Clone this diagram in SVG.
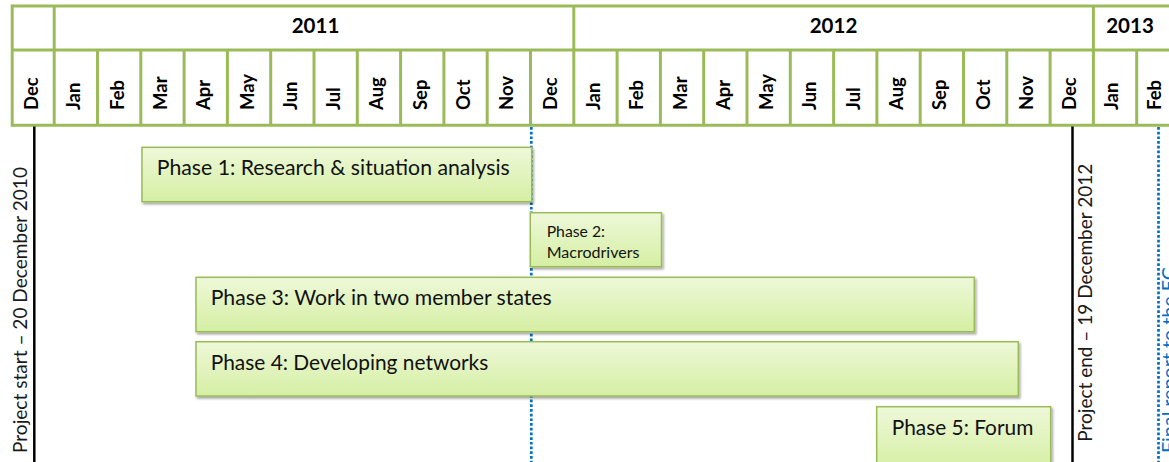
<svg xmlns="http://www.w3.org/2000/svg" width="1169" height="462" viewBox="0 0 1169 462">
  <defs>
    <linearGradient id="phaseFill" x1="0" y1="0" x2="0" y2="1">
      <stop offset="0" stop-color="#EEF8D9"/>
      <stop offset="1" stop-color="#D5EFA3"/>
    </linearGradient>
    <filter id="shadow" x="-5%" y="-20%" width="110%" height="150%">
      <feDropShadow dx="1.5" dy="2" stdDeviation="1.3" flood-color="#000" flood-opacity="0.35"/>
    </filter>
  </defs>
  <style>
    .grid { stroke: #9BBB59; stroke-width: 3; fill: none; }
    .year { font-family: Lato, "Liberation Sans", sans-serif; font-weight: 700; font-size: 20.5px; fill: #000; text-anchor: middle; }
    .month { font-family: Lato, "Liberation Sans", sans-serif; font-weight: 700; font-size: 18.5px; fill: #000; }
    .phase rect { fill: url(#phaseFill); stroke: #9BBB59; stroke-width: 1.5; filter: url(#shadow); }
    .phase text { font-family: Lato, "Liberation Sans", sans-serif; font-size: 20.5px; fill: #111; }
    .phase text.small { font-size: 15.5px; }
    .milestone { stroke: #000; stroke-width: 2.5; }
    .report { stroke: #0070C0; stroke-width: 2.7; stroke-dasharray: 2.7 2; }
    .label { font-family: Lato, "Liberation Sans", sans-serif; font-size: 19px; fill: #1a1a1a; }
    .label.blue { fill: #0070C0; }
  </style>

  <rect width="1169" height="462" fill="#fff"/>

  <!-- timeline header: years and months -->
  <g id="header">
    <line class="grid" x1="12.2" y1="6" x2="1169" y2="6"/>
    <line class="grid" x1="12.2" y1="50" x2="1169" y2="50"/>
    <line class="grid" x1="12.2" y1="125.3" x2="1169" y2="125.3"/>
    <line class="grid" x1="12.2" y1="4.5" x2="12.2" y2="126.8"/>
    <line class="grid" x1="54.2" y1="6" x2="54.2" y2="50"/>
    <line class="grid" x1="573.8" y1="6" x2="573.8" y2="50"/>
    <line class="grid" x1="1093.4" y1="6" x2="1093.4" y2="50"/>
    <g id="month-dividers">
      <line class="grid" x1="54.2" y1="50" x2="54.2" y2="125.3"/>
      <line class="grid" x1="97.5" y1="50" x2="97.5" y2="125.3"/>
      <line class="grid" x1="140.8" y1="50" x2="140.8" y2="125.3"/>
      <line class="grid" x1="184.1" y1="50" x2="184.1" y2="125.3"/>
      <line class="grid" x1="227.4" y1="50" x2="227.4" y2="125.3"/>
      <line class="grid" x1="270.7" y1="50" x2="270.7" y2="125.3"/>
      <line class="grid" x1="314.0" y1="50" x2="314.0" y2="125.3"/>
      <line class="grid" x1="357.3" y1="50" x2="357.3" y2="125.3"/>
      <line class="grid" x1="400.6" y1="50" x2="400.6" y2="125.3"/>
      <line class="grid" x1="443.9" y1="50" x2="443.9" y2="125.3"/>
      <line class="grid" x1="487.2" y1="50" x2="487.2" y2="125.3"/>
      <line class="grid" x1="530.5" y1="50" x2="530.5" y2="125.3"/>
      <line class="grid" x1="573.8" y1="50" x2="573.8" y2="125.3"/>
      <line class="grid" x1="617.1" y1="50" x2="617.1" y2="125.3"/>
      <line class="grid" x1="660.4" y1="50" x2="660.4" y2="125.3"/>
      <line class="grid" x1="703.7" y1="50" x2="703.7" y2="125.3"/>
      <line class="grid" x1="747.0" y1="50" x2="747.0" y2="125.3"/>
      <line class="grid" x1="790.3" y1="50" x2="790.3" y2="125.3"/>
      <line class="grid" x1="833.6" y1="50" x2="833.6" y2="125.3"/>
      <line class="grid" x1="876.9" y1="50" x2="876.9" y2="125.3"/>
      <line class="grid" x1="920.2" y1="50" x2="920.2" y2="125.3"/>
      <line class="grid" x1="963.5" y1="50" x2="963.5" y2="125.3"/>
      <line class="grid" x1="1006.8" y1="50" x2="1006.8" y2="125.3"/>
      <line class="grid" x1="1050.1" y1="50" x2="1050.1" y2="125.3"/>
      <line class="grid" x1="1093.4" y1="50" x2="1093.4" y2="125.3"/>
      <line class="grid" x1="1136.7" y1="50" x2="1136.7" y2="125.3"/>
    </g>
    <text class="year" x="315.5" y="33.3">2011</text>
    <text class="year" x="833.5" y="33.3">2012</text>
    <text class="year" x="1130" y="33.3">2013</text>
    <g id="months">
      <text class="month" transform="translate(37.7,110) rotate(-90)">Dec</text>
      <text class="month" transform="translate(80.3,110) rotate(-90)">Jan</text>
      <text class="month" transform="translate(123.6,110) rotate(-90)">Feb</text>
      <text class="month" transform="translate(166.9,110) rotate(-90)">Mar</text>
      <text class="month" transform="translate(210.2,110) rotate(-90)">Apr</text>
      <text class="month" transform="translate(253.5,110) rotate(-90)">May</text>
      <text class="month" transform="translate(296.8,110) rotate(-90)">Jun</text>
      <text class="month" transform="translate(340.1,110) rotate(-90)">Jul</text>
      <text class="month" transform="translate(383.4,110) rotate(-90)">Aug</text>
      <text class="month" transform="translate(426.7,110) rotate(-90)">Sep</text>
      <text class="month" transform="translate(470.0,110) rotate(-90)">Oct</text>
      <text class="month" transform="translate(513.3,110) rotate(-90)">Nov</text>
      <text class="month" transform="translate(556.6,110) rotate(-90)">Dec</text>
      <text class="month" transform="translate(599.9,110) rotate(-90)">Jan</text>
      <text class="month" transform="translate(643.2,110) rotate(-90)">Feb</text>
      <text class="month" transform="translate(686.5,110) rotate(-90)">Mar</text>
      <text class="month" transform="translate(729.8,110) rotate(-90)">Apr</text>
      <text class="month" transform="translate(773.1,110) rotate(-90)">May</text>
      <text class="month" transform="translate(816.4,110) rotate(-90)">Jun</text>
      <text class="month" transform="translate(859.7,110) rotate(-90)">Jul</text>
      <text class="month" transform="translate(903.0,110) rotate(-90)">Aug</text>
      <text class="month" transform="translate(946.3,110) rotate(-90)">Sep</text>
      <text class="month" transform="translate(989.6,110) rotate(-90)">Oct</text>
      <text class="month" transform="translate(1032.9,110) rotate(-90)">Nov</text>
      <text class="month" transform="translate(1076.2,110) rotate(-90)">Dec</text>
      <text class="month" transform="translate(1118.0,110) rotate(-90)">Jan</text>
      <text class="month" transform="translate(1160.5,110) rotate(-90)">Feb</text>
    </g>
  </g>

  <!-- milestone markers (drawn beneath the phase bars) -->
  <g id="connectors">
    <line class="milestone" x1="34.3" y1="126.5" x2="34.3" y2="462"/>
    <line class="milestone" x1="1072.5" y1="126.5" x2="1072.5" y2="462"/>
    <line class="report" x1="531.3" y1="127" x2="531.3" y2="462"/>
    <line class="report" x1="1158.5" y1="127" x2="1158.5" y2="462"/>
  </g>

  <g id="milestone-labels">
    <text class="label" transform="translate(26.7,453) rotate(-90)" textLength="286" lengthAdjust="spacingAndGlyphs">Project start – 20 December 2010</text>
    <text class="label" transform="translate(1091.7,441.7) rotate(-90)" textLength="278" lengthAdjust="spacingAndGlyphs">Project end – 19 December 2012</text>
    <text class="label blue" transform="translate(1175.5,453) rotate(-90)" textLength="186" lengthAdjust="spacingAndGlyphs">Final report to the EC</text>
  </g>

  <!-- phase bars -->
  <g id="phase1" class="phase">
    <rect x="142" y="147.3" width="389.7" height="54.4"/>
    <text x="156.7" y="175" textLength="353" lengthAdjust="spacingAndGlyphs">Phase 1: Research &amp; situation analysis</text>
  </g>
  <g id="phase2" class="phase">
    <rect x="530.3" y="212.7" width="131.2" height="54"/>
    <text class="small" x="546.7" y="236.5" textLength="58.3" lengthAdjust="spacingAndGlyphs">Phase 2:</text>
    <text class="small" x="546.7" y="257.5" textLength="92.7" lengthAdjust="spacingAndGlyphs">Macrodrivers</text>
  </g>
  <g id="phase3" class="phase">
    <rect x="196" y="277.3" width="778.3" height="54.4"/>
    <text x="210.7" y="305" textLength="341" lengthAdjust="spacingAndGlyphs">Phase 3: Work in two member states</text>
  </g>
  <g id="phase4" class="phase">
    <rect x="196" y="341.7" width="822.3" height="54.3"/>
    <text x="210.7" y="370" textLength="277.6" lengthAdjust="spacingAndGlyphs">Phase 4: Developing networks</text>
  </g>
  <g id="phase5" class="phase">
    <rect x="876.7" y="406.7" width="174" height="64"/>
    <text x="891.7" y="435" textLength="141.6" lengthAdjust="spacingAndGlyphs">Phase 5: Forum</text>
  </g>
</svg>
